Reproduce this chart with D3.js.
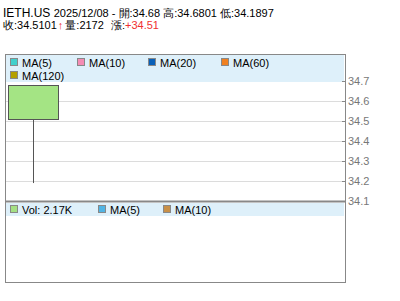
<!DOCTYPE html>
<html><head><meta charset="utf-8">
<script src="https://cdn.jsdelivr.net/npm/d3@7/dist/d3.min.js"></script>
<style>body{margin:0;background:#fff}svg{display:block;font-family:Arial,"Liberation Sans",sans-serif}</style>
</head><body>
<script>
const symbol = "IETH.US";
const dates = ["2025/12/08"];
const opens = [34.68];
const highs = [34.6801];
const lows = [34.1897];
const closes = [34.5101];
const volumes = [2172];
const change = "+34.51";
const yTicks = [34.1, 34.2, 34.3, 34.4, 34.5, 34.6, 34.7];
const priceLegend = ["MA(5)", "MA(10)", "MA(20)", "MA(60)", "MA(120)"];
const priceLegendColors = ["#40d0cc", "#f48cb4", "#0860b8", "#f08020", "#b4a000"];
const volLegend = ["Vol: 2.17K", "MA(5)", "MA(10)"];
const volLegendColors = ["#a4e084", "#50b4e4", "#c89048"];

const W = 400, H = 301;
const svg = d3.select("body").append("svg").attr("width", W).attr("height", H);

const pLeft = 5, pRight = 345, pTop = 54, mainBottom = 201, pBottom = 282;

// header
const t1 = svg.append("text").attr("x", 3).attr("y", 17).attr("font-size", 11).attr("fill", "#000");
t1.append("tspan").attr("font-size", 12).text(symbol + " ");
t1.append("tspan").text(`${dates[0]} - 開:${opens[0]} 高:${highs[0]} 低:${lows[0]}`);
const t2 = svg.append("text").attr("x", 3).attr("y", 29).attr("font-size", 11).attr("fill", "#000");
t2.append("tspan").text(`收:${closes[0]}`);
t2.append("tspan").attr("fill", "#f03030").attr("font-weight", "bold").attr("dx", 1).text("↑");
t2.append("tspan").attr("dx", 2).text(`量:${volumes[0]} `);
t2.append("tspan").attr("dx", 4).text("漲:");
t2.append("tspan").attr("fill", "#f03030").text(change);

// legend bands
svg.append("rect").attr("x", pLeft + 1).attr("y", pTop + 1).attr("width", pRight - pLeft - 2).attr("height", 27).attr("fill", "#def0fa");
svg.append("rect").attr("x", pLeft + 1).attr("y", mainBottom + 2).attr("width", pRight - pLeft - 2).attr("height", 13).attr("fill", "#def0fa");

// scales
const y = d3.scaleLinear().domain([34.1, 34.7]).range([mainBottom, 81]);
const x = d3.scaleBand().domain(dates).range([8, 58]).padding(0);

// grid
svg.append("g").selectAll("line").data(yTicks.filter(t => t > 34.1 && t < 34.7)).join("line")
  .attr("x1", pLeft).attr("x2", pRight).attr("y1", d => Math.round(y(d)) + 0.5).attr("y2", d => Math.round(y(d)) + 0.5)
  .attr("stroke", "#dcdcdc");

// axis
const ax = svg.append("g").attr("transform", `translate(${pRight},0)`)
  .call(d3.axisRight(y).tickValues(yTicks).tickFormat(d3.format(".1f")).tickSize(3).tickPadding(0));
ax.select(".domain").remove();
ax.selectAll(".tick line").attr("x1", -3).attr("x2", 0).attr("stroke", "#888");
ax.selectAll(".tick text").attr("x", 3).attr("fill", "#777").attr("font-size", 11).attr("font-family", "Arial, 'Liberation Sans', sans-serif");

// frame
svg.append("rect").attr("x", pLeft + 0.5).attr("y", pTop + 0.5).attr("width", pRight - pLeft).attr("height", pBottom - pTop).attr("fill", "none").attr("stroke", "#888");
svg.append("line").attr("x1", pRight + 0.5).attr("x2", pRight + 0.5).attr("y1", pTop).attr("y2", pBottom + 1).attr("stroke", "#888");
svg.append("line").attr("x1", pLeft).attr("x2", pRight).attr("y1", mainBottom + 0.5).attr("y2", mainBottom + 0.5).attr("stroke", "#888").attr("stroke-width", 2);

// candles
const cg = svg.append("g");
dates.forEach((d, i) => {
  const cx = Math.round(x(d) + x.bandwidth() / 2) + 0.5;
  cg.append("line").attr("x1", cx).attr("x2", cx).attr("y1", y(highs[i])).attr("y2", y(lows[i])).attr("stroke", "#555");
  cg.append("rect").attr("x", x(d) + 0.5).attr("y", Math.round(y(Math.max(opens[i], closes[i]))) + 0.5)
    .attr("width", x.bandwidth()).attr("height", Math.round(y(Math.min(opens[i], closes[i])) - y(Math.max(opens[i], closes[i]))))
    .attr("fill", "#a4e484").attr("stroke", "#555");
});

// price legend
const plPos = [[10, 63], [77, 63], [148, 63], [221, 63], [10, 76]];
priceLegend.forEach((l, i) => {
  const [px, py] = plPos[i];
  svg.append("rect").attr("x", px + 0.5).attr("y", py - 4.5).attr("width", 7).attr("height", 7).attr("fill", priceLegendColors[i]).attr("stroke", "#888");
  svg.append("text").attr("x", px + 12).attr("y", py + 4).attr("font-size", 11).attr("fill", "#000").text(l);
});

// volume legend
const vlPos = [10, 98, 163];
volLegend.forEach((l, i) => {
  const px = vlPos[i], py = 210;
  svg.append("rect").attr("x", px + 0.5).attr("y", py - 4.5).attr("width", 7).attr("height", 7).attr("fill", volLegendColors[i]).attr("stroke", "#888");
  svg.append("text").attr("x", px + 12).attr("y", py + 4).attr("font-size", 11).attr("fill", "#000").text(l);
});
</script>
</body></html>
